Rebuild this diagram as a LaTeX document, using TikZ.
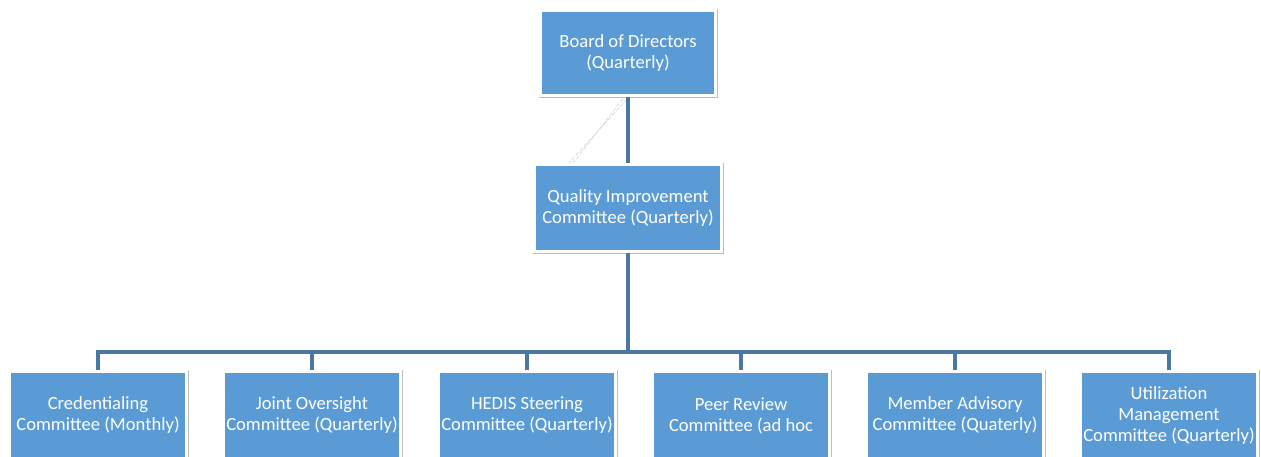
\documentclass[tikz,border=0pt]{standalone}
\usepackage{fontspec}
\setmainfont{Carlito}
\usetikzlibrary{calc}
\definecolor{boxblue}{HTML}{5B9BD5}
\definecolor{linkblue}{HTML}{4A77A3}
\definecolor{rimgray}{HTML}{BDBDBD}
\definecolor{ghost}{HTML}{D6D6D6}
\begin{document}
\begin{tikzpicture}[x=1pt,y=-1pt,
  orgbox/.style={rectangle, fill=boxblue, draw=white, line width=2.2pt,
    preaction={draw=rimgray, line width=4pt},
    inner sep=0pt, align=center, text=white,
    font=\fontsize{18.6}{21}\selectfont},
  link/.style={draw=linkblue, line width=3.2pt},
  ghostline/.style={draw=ghost, line width=0.7pt, dashed, dash pattern=on 4pt off 2pt}]
\useasboundingbox (0,0) rectangle (1261,456);
\fill[white] (0,0) rectangle (1261,456);

% top of the hierarchy
\node[orgbox, minimum width=175pt, minimum height=85pt] (board) at (628,53)
  {Board of Directors\\(Quarterly)};
\node[orgbox, minimum width=187pt, minimum height=87pt] (qic) at (628,208)
  {Quality Improvement\\Committee (Quarterly)};

% committees reporting to the QIC
\begin{scope}[every node/.style={orgbox, minimum width=177pt, minimum height=88pt}]
\node (cred) at (98,415.5)   {Credentialing\\Committee (Monthly)};
\node (joint) at (312,415.5) {Joint Oversight\\Committee (Quarterly)};
\node (hedis) at (527,415.5) {HEDIS Steering\\Committee (Quarterly)};
\node (peer) at (741,415.5)  {Peer Review\\Committee (ad hoc};
\node (member) at (955,415.5){Member Advisory\\Committee (Quaterly)};
\node (util) at (1169,415.5) {Utilization\\Management\\Committee (Quarterly)};
\end{scope}

% faint dashed guide between the two upper boxes
\coordinate (ga1) at (627,99);
\coordinate (gb1) at (569,163);
\coordinate (ga2) at (623,99);
\coordinate (gb2) at (573,163);
\draw[ghostline] (ga1) -- (gb1);
\draw[ghostline] (ga2) -- (gb2);

% connectors
\draw[link] (board.south) -- (qic.north);
\coordinate (bus) at (628,352);
\foreach \n in {cred,joint,hedis,peer,member,util}
  \draw[link] (qic.south) -- (bus) -| (\n.north);
\end{tikzpicture}
\end{document}
